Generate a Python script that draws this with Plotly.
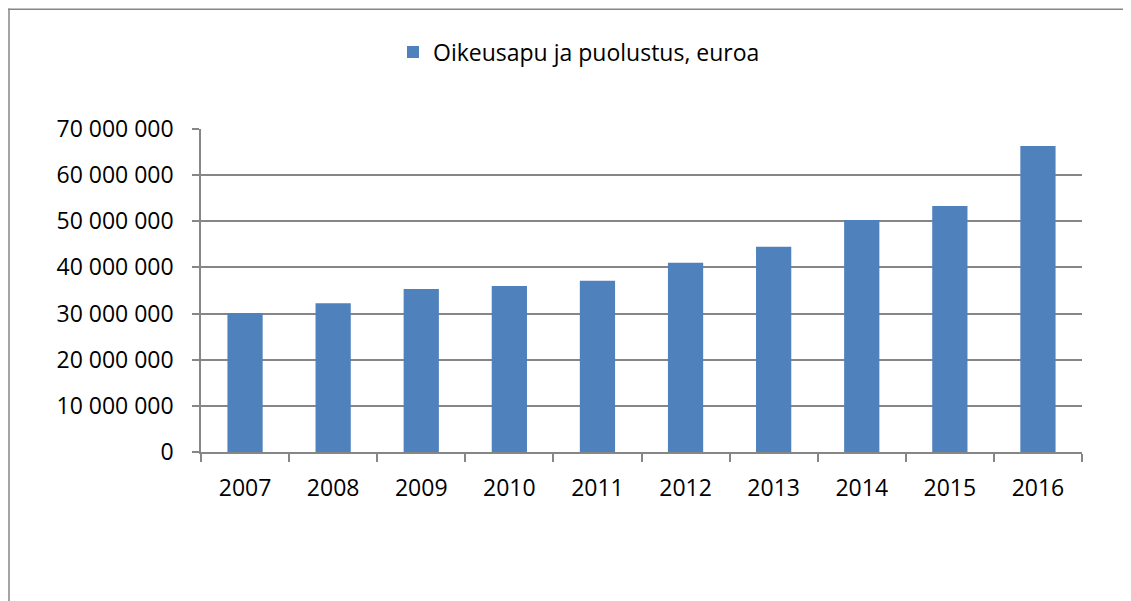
import plotly.graph_objects as go

years = ["2007", "2008", "2009", "2010", "2011", "2012", "2013", "2014", "2015", "2016"]
values = [30150000, 32250000, 35300000, 36000000, 37100000, 41000000, 44500000, 50300000, 53300000, 66300000]
series_name = "Oikeusapu ja puolustus, euroa"
y_tickvals = [0, 10000000, 20000000, 30000000, 40000000, 50000000, 60000000, 70000000]
y_ticktext = ["0", "10 000 000", "20 000 000", "30 000 000", "40 000 000", "50 000 000", "60 000 000", "70 000 000"]

GRID = "#868686"
FONT = "Open Sans"
FS = 23

# page offset (default body margin)
OFF = 8
W, H = 1131, 601
# target plot area in screen pixels
SL, SR, ST, SB = 201, 1082, 129, 452.5
L = SL - OFF
T = ST - OFF
R = (W + OFF) - SR
B = (H + OFF) - SB
pw = W - L - R
ph = H - T - B

def px_x(px):
    return (px - SL) / pw

def px_y(py):
    return (SB - py) / ph

fig = go.Figure()
fig.add_trace(go.Bar(
    x=years, y=values, name=series_name,
    marker=dict(color="#4F81BD", line=dict(width=0)),
    showlegend=True,
))

edge = OFF + 1
fig.update_layout(
    width=W, height=H,
    margin=dict(l=L, r=R, t=T, b=B, pad=0),
    paper_bgcolor="white", plot_bgcolor="white",
    bargap=0.6,
    font=dict(family=FONT, size=FS, color="#000000"),
    legend=dict(
        orientation="h", x=px_x(579), y=px_y(52), xanchor="center", yanchor="middle",
        font=dict(family=FONT, size=FS, color="#000000"),
        itemwidth=30,
    ),
    xaxis=dict(
        type="category", showgrid=False, showline=True, linecolor=GRID, linewidth=1.5,
        ticks="outside", tickson="boundaries", ticklen=8, tickcolor=GRID, tickwidth=1.5,
        ticklabelstandoff=15, tickfont=dict(family=FONT, size=FS),
    ),
    yaxis=dict(
        range=[0, 70000000], tickvals=y_tickvals, ticktext=y_ticktext,
        showgrid=True, gridcolor=GRID, gridwidth=1.5, zeroline=False,
        showline=True, linecolor=GRID, linewidth=1.5,
        ticks="outside", ticklen=7, tickcolor=GRID, tickwidth=1.5,
        ticklabelstandoff=14, tickfont=dict(family=FONT, size=FS),
    ),
    shapes=[
        dict(type="line", xref="paper", yref="paper",
             x0=px_x(edge), x1=px_x(edge), y0=px_y(700), y1=px_y(edge - 0.75),
             line=dict(color=GRID, width=1.5), layer="below"),
        dict(type="line", xref="paper", yref="paper",
             x0=px_x(edge - 0.75), x1=px_x(1200), y0=px_y(edge), y1=px_y(edge),
             line=dict(color=GRID, width=1.5), layer="below"),
    ],
)

fig.write_html("out.html")
